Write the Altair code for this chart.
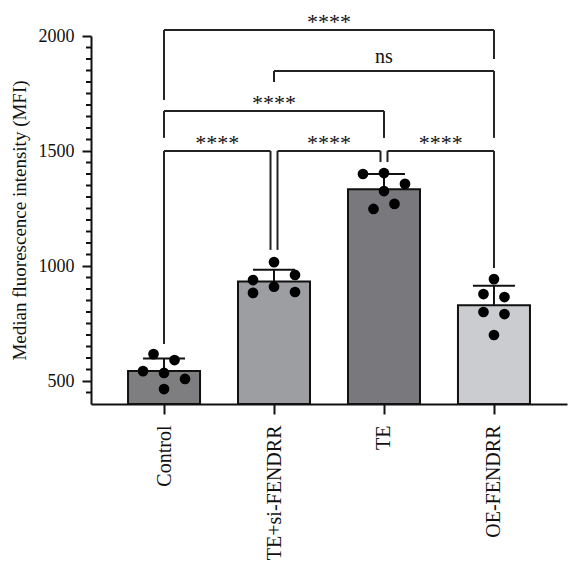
import json
import math

import altair as alt
import pandas as pd

# ---- data -------------------------------------------------------------
GROUPS = ["Control", "TE+si-FENDRR", "TE", "OE-FENDRR"]
BAR_COLORS = ["#7e7e81", "#9d9ea2", "#79787d", "#cbcccf"]

CONTROL = [617, 591, 543, 535, 509, 465]
TE_SI_FENDRR = [1017, 939, 910, 961, 883, 887]
TE = [1400, 1404, 1357, 1326, 1248, 1270]
OE_FENDRR = [943, 878, 865, 800, 791, 700]
REPLICATES = [CONTROL, TE_SI_FENDRR, TE, OE_FENDRR]

Y_TICKS = [500, 1000, 1500, 2000]

# significance brackets: groups compared, bracket height, leg ends, label
BRACKET_FROM = ["Control", "TE+si-FENDRR", "TE", "Control", "TE+si-FENDRR", "Control"]
BRACKET_TO = ["TE+si-FENDRR", "TE", "OE-FENDRR", "TE", "OE-FENDRR", "OE-FENDRR"]
BRACKET_Y = [1500, 1500, 1500, 1674, 1848, 2026]
LEG_FROM_END = [661, 1070, 1452, 1557, 1800, 1722]
LEG_TO_END = [1070, 1452, 991, 1557, 1557, 1900]
BRACKET_LABEL = ["****", "****", "****", "****", "ns", "****"]

# ---- geometry ---------------------------------------------------------
WIDTH, HEIGHT = 476, 368
Y_MIN, Y_MAX = 400, 2000
X_MIN, X_MAX = -0.664, 3.664
PX_PER_X = WIDTH / (X_MAX - X_MIN)
PX_PER_Y = HEIGHT / (Y_MAX - Y_MIN)

BAR_HALF = 36 / PX_PER_X
CAP_HALF = 21 / PX_PER_X
GAP = 3.5 / PX_PER_X
SLOT_PX = 21.0
DOT_PX = 12.5
FONT = "Liberation Serif"
INK = "#111111"


def swarm_offsets(values):
    """Row-binned column scatter: dots of similar value share a row, rows are centred."""
    n = len(values)
    order = sorted(range(n), key=lambda i: -values[i])
    rows = []
    for i in order:
        if rows and (values[rows[-1][0]] - values[i]) * PX_PER_Y <= DOT_PX:
            rows[-1].append(i)
        else:
            rows.append([i])
    placed = []
    offsets = [0.0] * n
    for row in rows:
        row = sorted(row)
        k = len(row)
        for mult in (1, 2, 3):
            xs = [(j - (k - 1) / 2) * SLOT_PX * mult for j in range(k)]
            ok = all(
                math.hypot(xs[j] - px, values[i] * PX_PER_Y - py) >= DOT_PX
                for j, i in enumerate(row)
                for px, py in placed
            )
            if ok:
                break
        for j, i in enumerate(row):
            offsets[i] = xs[j]
            placed.append((xs[j], values[i] * PX_PER_Y))
    return offsets


rows = []
for gi, (g, vals) in enumerate(zip(GROUPS, REPLICATES)):
    for v, off in zip(vals, swarm_offsets(vals)):
        rows.append({"group": g, "idx": gi, "value": v, "xpos": gi + off / PX_PER_X})
points = pd.DataFrame(rows)

# bracket ends that meet at a shared group on the same level are pulled apart
brows = []
for k in range(len(BRACKET_FROM)):
    a, b, y = BRACKET_FROM[k], BRACKET_TO[k], BRACKET_Y[k]
    same_level = [j for j in range(len(BRACKET_Y)) if j != k and BRACKET_Y[j] == y]
    off_l = GAP if any(BRACKET_TO[j] == a for j in same_level) else 0.0
    off_r = -GAP if any(BRACKET_FROM[j] == b for j in same_level) else 0.0
    xl = GROUPS.index(a) + off_l
    xr = GROUPS.index(b) + off_r
    brows.append({
        "xl": xl, "xr": xr, "xm": (xl + xr) / 2, "y": y,
        "yl": LEG_FROM_END[k], "yr": LEG_TO_END[k], "label": BRACKET_LABEL[k],
    })
brackets = pd.DataFrame(brows)

minor = pd.DataFrame({"v": [t for t in range(Y_MIN + 50, Y_MAX, 50) if t % 500]})

# ---- scales & axes (identical in every layer so they merge cleanly) ----
X_SCALE = alt.Scale(domain=[X_MIN, X_MAX], nice=False, zero=False)
Y_SCALE = alt.Scale(domain=[Y_MIN, Y_MAX], nice=False, zero=False)

label_expr = json.dumps(GROUPS) + "[round(datum.value)]"
X_AXIS = alt.Axis(
    values=list(range(len(GROUPS))), labelExpr=label_expr, title=None,
    labelAngle=270, labelFont=FONT, labelFontSize=20, labelColor=INK,
    labelPadding=11, labelOverlap=False, labelFlush=False, labelBound=False,
    tickSize=10, tickWidth=2, tickColor=INK, domainWidth=2, domainColor=INK,
    grid=False,
)
Y_AXIS = alt.Axis(
    values=Y_TICKS, format="d", title="Median fluorescence intensity (MFI)",
    titleFont=FONT, titleFontSize=19, titleFontWeight="normal", titleColor=INK,
    titlePadding=9, labelFont=FONT, labelFontSize=18, labelColor=INK,
    labelPadding=8, tickSize=9, tickWidth=2, tickColor=INK,
    domainWidth=2, domainColor=INK, grid=False,
)


def X(field):
    return alt.X(field, type="quantitative", scale=X_SCALE, axis=X_AXIS)


def Y(field):
    return alt.Y(field, type="quantitative", scale=Y_SCALE, axis=Y_AXIS)


summary = (
    alt.Chart(points)
    .transform_aggregate(mean="mean(value)", sd="stdev(value)", groupby=["group", "idx"])
    .transform_calculate(
        lo=f"datum.idx - {BAR_HALF}",
        hi=f"datum.idx + {BAR_HALF}",
        cl=f"datum.idx - {CAP_HALF}",
        cr=f"datum.idx + {CAP_HALF}",
        top="datum.mean + datum.sd",
    )
)

bars = summary.mark_bar(stroke=INK, strokeWidth=2).encode(
    x=X("lo"),
    x2="hi:Q",
    y=Y("mean"),
    y2=alt.datum(Y_MIN),
    color=alt.Color("group:N", scale=alt.Scale(domain=GROUPS, range=BAR_COLORS), legend=None),
)

stems = summary.mark_rule(color=INK, strokeWidth=2).encode(
    x=X("idx"), y=Y("mean"), y2="top:Q",
)
caps = summary.mark_rule(color=INK, strokeWidth=2).encode(
    x=X("cl"), x2="cr:Q", y=Y("top"),
)

dots = alt.Chart(points).mark_circle(size=115, color="black", opacity=1).encode(
    x=X("xpos"), y=Y("value"),
)

minor_ticks = alt.Chart(minor).mark_rule(color=INK, strokeWidth=2).encode(
    x=alt.value(-5), x2=alt.value(0), y=Y("v"),
)

bracket_base = alt.Chart(brackets)
b_top = bracket_base.mark_rule(color="#222222", strokeWidth=2).encode(
    x=X("xl"), x2="xr:Q", y=Y("y"),
)
b_left = bracket_base.mark_rule(color="#222222", strokeWidth=2).encode(
    x=X("xl"), y=Y("y"), y2="yl:Q",
)
b_right = bracket_base.mark_rule(color="#222222", strokeWidth=2).encode(
    x=X("xr"), y=Y("y"), y2="yr:Q",
)
stars = bracket_base.transform_filter("datum.label != 'ns'").mark_text(
    font=FONT, fontSize=22, baseline="alphabetic", align="center", dy=-1, color=INK,
).encode(x=X("xm"), y=Y("y"), text="label:N")
ns = bracket_base.transform_filter("datum.label == 'ns'").mark_text(
    font=FONT, fontSize=20, baseline="alphabetic", align="center", dy=-8, color=INK,
).encode(x=X("xm"), y=Y("y"), text="label:N")

chart = (
    alt.layer(bars, minor_ticks, b_top, b_left, b_right, stems, caps, dots, stars, ns)
    .properties(
        width=WIDTH,
        height=HEIGHT,
        padding={"left": 91, "top": 36, "right": 2, "bottom": 162},
        autosize=alt.AutoSizeParams(type="none"),
        background="white",
    )
    .configure_view(stroke=None)
)

chart.save("out.html", embed_options={"renderer": "svg", "actions": False})
